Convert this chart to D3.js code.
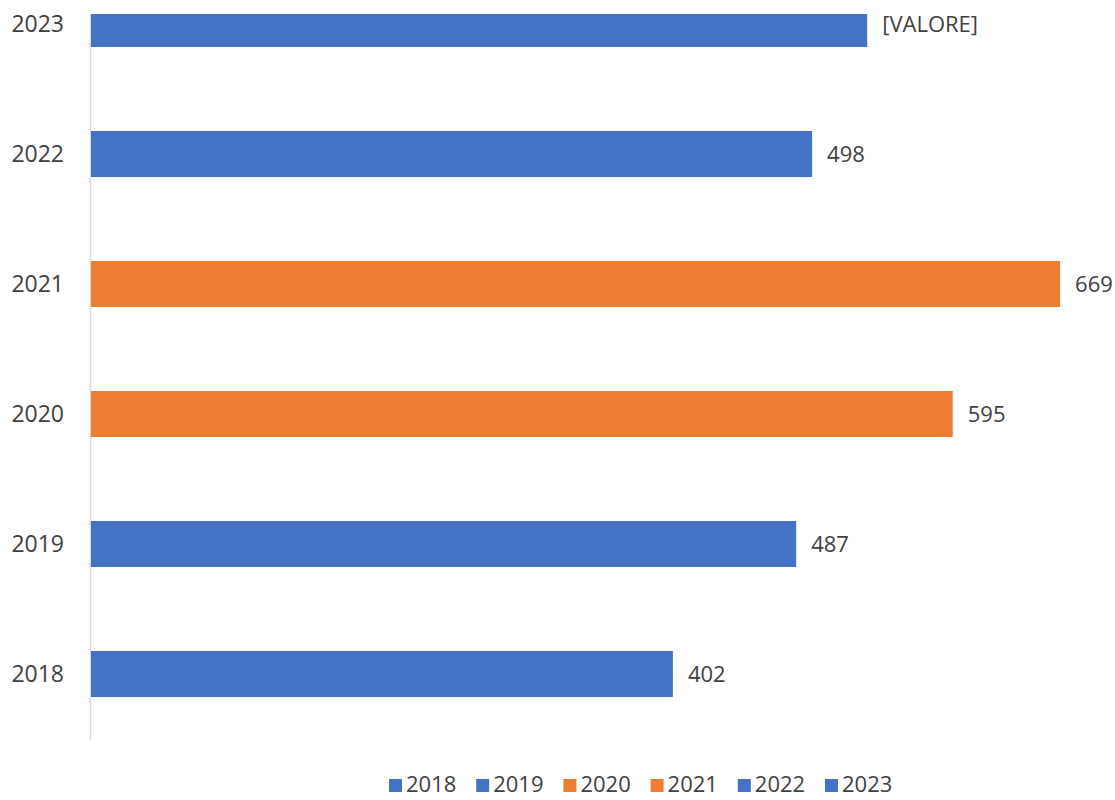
<!DOCTYPE html>
<html>
<head>
<meta charset="utf-8">
<script src="https://cdn.jsdelivr.net/npm/d3@7"></script>
<style>
  html, body { margin: 0; padding: 0; background: #fff; }
  svg { display: block; font-family: "Open Sans", sans-serif; }
</style>
</head>
<body>
<div id="chart"></div>
<script>
const years = [`2018`, `2019`, `2020`, `2021`, `2022`, `2023`];
const values = [402, 487, 595, 669, 498, 536];
const valueLabels = [`402`, `487`, `595`, `669`, `498`, `[VALORE]`];
const barColors = [`#4472C4`, `#4472C4`, `#ED7D31`, `#ED7D31`, `#4472C4`, `#4472C4`];

const width = 1115;
const height = 800;

const svg = d3.select(`#chart`).append(`svg`)
    .attr(`width`, width)
    .attr(`height`, height);

// plot area runs above the visible top; the top bar is cut like in the source
const x = d3.scaleLinear().domain([0, 700]).range([90, 1105]);
const y = d3.scaleBand().domain(years).range([739, -41]).paddingInner(0.646).paddingOuter(0.323);

svg.append(`clipPath`).attr(`id`, `plot-clip`)
  .append(`rect`).attr(`x`, 0).attr(`y`, 14).attr(`width`, width).attr(`height`, 726);

const plot = svg.append(`g`).attr(`clip-path`, `url(#plot-clip)`);

plot.append(`line`)
    .attr(`x1`, x(0) + 0.5).attr(`x2`, x(0) + 0.5)
    .attr(`y1`, 14).attr(`y2`, 740)
    .attr(`stroke`, `#d9d9d9`)
    .attr(`stroke-width`, 1.5);

plot.selectAll(`rect.bar`)
    .data(years)
  .enter().append(`rect`)
    .attr(`class`, `bar`)
    .attr(`x`, x(0) + 1)
    .attr(`y`, (d) => y(d))
    .attr(`width`, (d, i) => x(values[i]) - x(0) - 1)
    .attr(`height`, y.bandwidth())
    .attr(`fill`, (d, i) => barColors[i]);

svg.selectAll(`text.cat`)
    .data(years)
  .enter().append(`text`)
    .attr(`class`, `cat`)
    .attr(`x`, 64)
    .attr(`y`, (d) => y(d) + y.bandwidth() / 2)
    .attr(`dy`, `0.36em`)
    .attr(`text-anchor`, `end`)
    .attr(`font-size`, 23)
    .attr(`fill`, `#404040`)
    .text((d) => d);

svg.selectAll(`text.val`)
    .data(years)
  .enter().append(`text`)
    .attr(`class`, `val`)
    .attr(`x`, (d, i) => x(values[i]) + 15)
    .attr(`y`, (d) => y(d) + y.bandwidth() / 2)
    .attr(`dy`, `0.36em`)
    .attr(`font-size`, 22)
    .attr(`fill`, `#404040`)
    .text((d, i) => valueLabels[i]);

// legend sits right at the bottom edge
const legend = svg.append(`g`).attr(`transform`, `translate(389, 784)`);
const item = legend.selectAll(`g`)
    .data(years)
  .enter().append(`g`)
    .attr(`transform`, (d, i) => `translate(${i * 87.2}, 0)`);

item.append(`rect`)
    .attr(`x`, 0).attr(`y`, -5)
    .attr(`width`, 13).attr(`height`, 13)
    .attr(`fill`, (d, i) => barColors[i]);

item.append(`text`)
    .attr(`x`, 17)
    .attr(`y`, 0)
    .attr(`dy`, `0.36em`)
    .attr(`font-size`, 22)
    .attr(`fill`, `#404040`)
    .text((d) => d);
</script>
</body>
</html>
